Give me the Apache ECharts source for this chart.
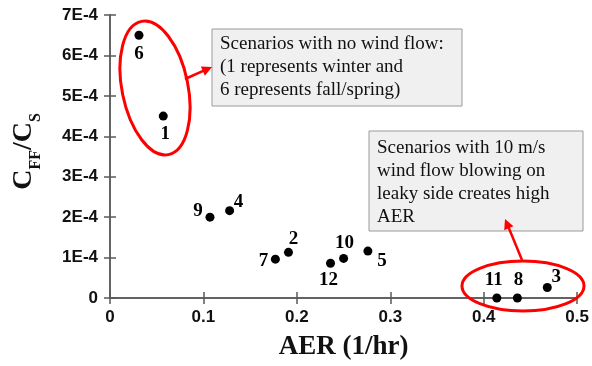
<!DOCTYPE html>
<html>
<head>
<meta charset="utf-8">
<title>Flow ratio vs air exchange rate</title>
<script src="https://cdn.jsdelivr.net/npm/echarts@6/dist/echarts.min.js"></script>
<style>
  html, body { margin: 0; padding: 0; background: #fff; }
  #chart { width: 592px; height: 366px; }
</style>
</head>
<body>
<div id="chart"></div>
<script>
// Scenario results: air exchange rate vs concentration ratio
const scenarios = ['1', '2', '3', '4', '5', '6', '7', '8', '9', '10', '11', '12'];
const aerValues = [0.057, 0.191, 0.468, 0.128, 0.276, 0.031, 0.177, 0.436, 0.107, 0.250, 0.414, 0.236];
const ratioValues = [4.5e-4, 1.13e-4, 0.26e-4, 2.16e-4, 1.16e-4, 6.5e-4, 0.96e-4, 0.0, 2.0e-4, 0.98e-4, 0.0, 0.86e-4];

const xTicks = [0, 0.1, 0.2, 0.3, 0.4, 0.5];
const yTickLabels = ['0', '1E-4', '2E-4', '3E-4', '4E-4', '5E-4', '6E-4', '7E-4'];

const noteNoWind = ['Scenarios with no wind flow:', '(1 represents winter and', '6 represents fall/spring)'];
const noteLeaky = ['Scenarios with 10 m/s', 'wind flow blowing on', 'leaky side creates high', 'AER'];

// label offsets (px) from each marker centre
const labelOffsets = {
  '1': [2, 18], '2': [5, -13], '3': [9, -10], '4': [9, -9], '5': [14, 10], '6': [0, 19],
  '7': [-12, 2], '8': [1, -18], '9': [-12, -6], '10': [1, -15], '11': [-3, -18], '12': [-2, 17]
};

const points = scenarios.map((id, i) => ({
  value: [aerValues[i], ratioValues[i]],
  name: id,
  label: { offset: labelOffsets[id] }
}));

const axisColor = '#5a5a5a';
const tickFont = { fontFamily: 'Liberation Sans', fontWeight: 'bold', fontSize: 17, color: '#111' };

const chart = echarts.init(document.getElementById('chart'), null, { renderer: 'canvas' });

function arrowHead(x0, y0, x1, y1, len, half) {
  const dx = x1 - x0, dy = y1 - y0;
  const d = Math.hypot(dx, dy);
  const ux = dx / d, uy = dy / d;
  const bx = x1 - ux * len, by = y1 - uy * len;
  return [[x1, y1], [bx - uy * half, by + ux * half], [bx + uy * half, by - ux * half]];
}

function noteBox(x, y, w, h, lines, pad) {
  return {
    type: 'group',
    children: [
      { type: 'rect', shape: { x: x, y: y, width: w, height: h },
        style: { fill: '#f0f0f0', stroke: '#9a9a9a', lineWidth: 1 }, z: 10 },
      { type: 'text', x: x + 8, y: y + pad, z: 11,
        style: { text: lines.join('\n'), fill: '#111', font: '19px "Liberation Serif"', lineHeight: 23 } }
    ]
  };
}

const red = '#ff0000';
const a1 = { x0: 185, y0: 79, x1: 212, y1: 67 };
const a2 = { x0: 522, y0: 260, x1: 505, y1: 219 };

chart.setOption({
  animation: false,
  backgroundColor: '#fff',
  grid: { left: 110, right: 13, top: 15, bottom: 66, containLabel: false },
  xAxis: [{
    type: 'value', min: 0, max: 0.5, interval: 0.1,
    name: 'AER (1/hr)', nameLocation: 'middle', nameGap: 36,
    nameTextStyle: { fontFamily: 'Liberation Serif', fontWeight: 'bold', fontSize: 27, color: '#111' },
    axisLine: { show: true, lineStyle: { color: axisColor, width: 1.5 } },
    axisTick: { show: true, inside: true, length: 6, lineStyle: { color: axisColor, width: 1.5 } },
    axisLabel: Object.assign({ margin: 11, formatter: v => String(xTicks.find(t => Math.abs(t - v) < 1e-9) ?? v) }, tickFont),
    splitLine: { show: false }
  }, {
    type: 'value', position: 'top', min: 0, max: 0.5, interval: 0.1,
    axisLine: { show: true, lineStyle: { color: axisColor, width: 1.5 } },
    axisTick: { show: true, inside: true, length: 6, lineStyle: { color: axisColor, width: 1.5 } },
    axisLabel: { show: false }, splitLine: { show: false }
  }],
  yAxis: [{
    type: 'value', min: 0, max: 7e-4, interval: 1e-4,
    name: '{c|C}{s|FF}{c|/C}{s|S}', nameLocation: 'middle', nameGap: 72, nameRotate: 90,
    nameTextStyle: {
      padding: [0, 0, 0, 10],
      rich: {
        c: { fontFamily: 'Liberation Serif', fontWeight: 'bold', fontSize: 28, color: '#111', verticalAlign: 'bottom', lineHeight: 30 },
        s: { fontFamily: 'Liberation Serif', fontWeight: 'bold', fontSize: 16, color: '#111', verticalAlign: 'bottom', lineHeight: 22, padding: [0, 0, -6, 0] }
      }
    },
    axisLine: { show: true, lineStyle: { color: axisColor, width: 1.5 } },
    axisTick: { show: true, inside: true, length: 6, lineStyle: { color: axisColor, width: 1.5 } },
    axisLabel: Object.assign({ margin: 12, formatter: v => yTickLabels[Math.round(v / 1e-4)] }, tickFont),
    splitLine: { show: false }
  }, {
    type: 'value', position: 'right', min: 0, max: 7e-4, interval: 1e-4,
    axisLine: { show: true, lineStyle: { color: axisColor, width: 1.5 } },
    axisTick: { show: true, inside: true, length: 6, lineStyle: { color: axisColor, width: 1.5 } },
    axisLabel: { show: false }, splitLine: { show: false }
  }],
  series: [{
    type: 'scatter',
    xAxisIndex: 0, yAxisIndex: 0,
    symbol: 'circle', symbolSize: 9,
    itemStyle: { color: '#000', opacity: 1 },
    label: {
      show: true, position: 'inside', formatter: '{b}',
      fontFamily: 'Liberation Serif', fontWeight: 'bold', fontSize: 19, color: '#000'
    },
    data: points,
    z: 5
  }],
  graphic: [
    noteBox(212, 29, 250, 77, noteNoWind, 4),
    noteBox(369, 131, 214, 100, noteLeaky, 6),
    { type: 'ellipse', x: 155, y: 88, rotation: 0.2, z: 20,
      shape: { cx: 0, cy: 0, rx: 33, ry: 68 },
      style: { fill: 'none', stroke: red, lineWidth: 3 } },
    { type: 'ellipse', x: 523, y: 286, z: 20,
      shape: { cx: 0, cy: 0, rx: 61, ry: 25 },
      style: { fill: 'none', stroke: red, lineWidth: 3 } },
    { type: 'line', z: 20, shape: { x1: a1.x0, y1: a1.y0, x2: a1.x1 - 6, y2: a1.y1 + 2.7 },
      style: { stroke: red, lineWidth: 2.5 } },
    { type: 'polygon', z: 20, shape: { points: arrowHead(a1.x0, a1.y0, a1.x1, a1.y1, 10, 5) },
      style: { fill: red } },
    { type: 'line', z: 20, shape: { x1: a2.x0, y1: a2.y0, x2: a2.x1 + 3, y2: a2.y1 + 7 },
      style: { stroke: red, lineWidth: 2.5 } },
    { type: 'polygon', z: 20, shape: { points: arrowHead(a2.x0, a2.y0, a2.x1, a2.y1, 10, 5) },
      style: { fill: red } }
  ]
});
</script>
</body>
</html>
